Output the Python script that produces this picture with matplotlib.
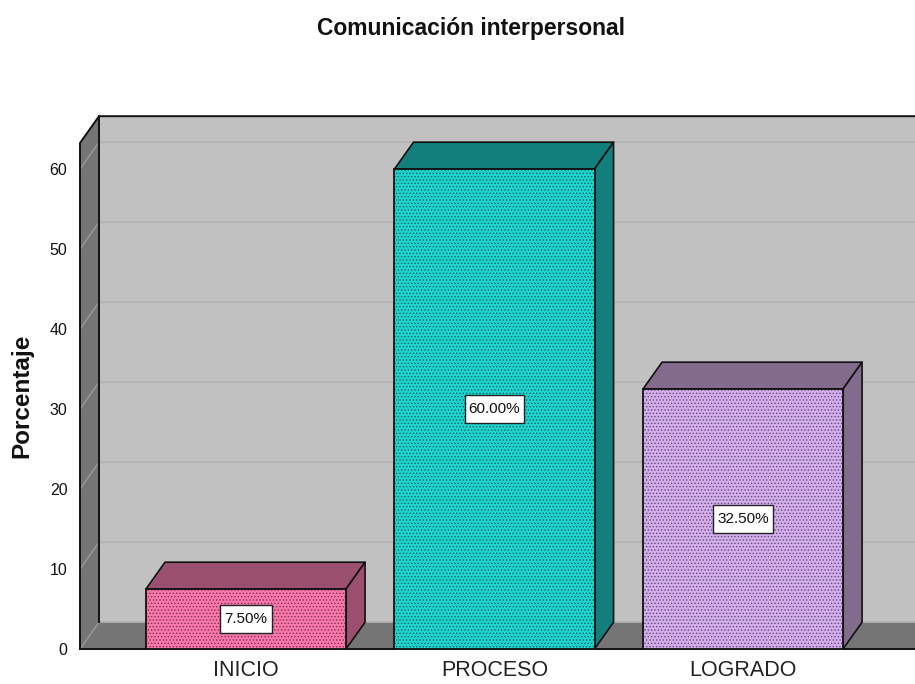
import matplotlib as mpl
mpl.use('Agg')
import matplotlib.pyplot as plt
from matplotlib.patches import Polygon, Rectangle

plt.rcParams['font.family'] = ['Liberation Sans', 'DejaVu Sans']
plt.rcParams['hatch.linewidth'] = 0.6

categories = ['INICIO', 'PROCESO', 'LOGRADO']
values = [7.5, 60.0, 32.5]
labels = ['7.50%', '60.00%', '32.50%']
front_colors = ['#FA78AC', '#20D4CD', '#D4AEEC']
side_colors = ['#9C5070', '#127F7D', '#836B8C']
hatch_colors = ['#7A3050', '#0A6A66', '#5F4A70']
box_w = [0.21, 0.235, 0.24]
yticks = [0, 10, 20, 30, 40, 50, 60]

# 3D look, offsets in data units
dx = 0.0765
dy = 3.35
bar_w = 0.805
ytop = 63.25
xmin, xmax = -0.668, 2.692

fig = plt.figure(figsize=(9.15, 6.84), dpi=100)
ax = fig.add_axes([80/915, 35/684, 835/915, 532.8/684])
ax.set_xlim(xmin, xmax)
ax.set_ylim(0, ytop + dy)
for s in ax.spines.values():
    s.set_visible(False)
ax.patch.set_alpha(0)

edge = '#111111'
# back wall, side wall, floor
ax.add_patch(Polygon([(xmin+dx, dy), (xmax, dy), (xmax, ytop+dy), (xmin+dx, ytop+dy)], fc='#C1C1C1', ec='none', zorder=1))
ax.add_patch(Polygon([(xmin, 0), (xmin+dx, dy), (xmin+dx, ytop+dy), (xmin, ytop)], fc='#757575', ec='none', zorder=1))
ax.add_patch(Polygon([(xmin, 0), (xmax, 0), (xmax, dy), (xmin+dx, dy)], fc='#757575', ec='none', zorder=1))

for t in yticks:
    ax.plot([xmin+dx, xmax], [t+dy, t+dy], color='#B2B2B2', lw=1.2, zorder=2, clip_on=False)
    ax.plot([xmin, xmin+dx], [t, t+dy], color='#959595', lw=1.1, zorder=2, clip_on=False)

ax.plot([xmin, xmin, xmin+dx, xmax], [0, ytop, ytop+dy, ytop+dy], color=edge, lw=1.4, zorder=3, clip_on=False)
ax.plot([xmin+dx, xmin+dx], [dy, ytop+dy], color=edge, lw=1.4, zorder=3, clip_on=False)
ax.plot([xmin, xmax], [0, 0], color=edge, lw=1.4, zorder=3, clip_on=False)

x = list(range(len(values)))
for i, v in enumerate(values):
    l, r = x[i] - bar_w/2, x[i] + bar_w/2
    ax.add_patch(Polygon([(l, v), (r, v), (r+dx, v+dy), (l+dx, v+dy)], fc=side_colors[i], ec=edge, lw=1.2, zorder=4, joinstyle='round'))
    ax.add_patch(Polygon([(r, 0), (r+dx, dy), (r+dx, v+dy), (r, v)], fc=side_colors[i], ec=edge, lw=1.2, zorder=4, joinstyle='round'))
    ax.bar(x[i], v, width=bar_w, color=front_colors[i], edgecolor=hatch_colors[i], hatch='.....', lw=0, zorder=5)
    ax.bar(x[i], v, width=bar_w, fill=False, edgecolor=edge, lw=1.3, zorder=6)
    ax.add_patch(Rectangle((x[i]-box_w[i]/2, v/2-1.75), box_w[i], 3.5, fc='white', ec='#222222', lw=1.0, zorder=7))
    ax.text(x[i], v/2, labels[i], ha='center', va='center', fontsize=11, color='#111111', zorder=8)

ax.set_xticks(x)
ax.set_xticklabels(categories, fontsize=15.5, color='#222222')
ax.set_yticks(yticks)
ax.set_yticklabels([str(t) for t in yticks], fontsize=11.5, color='#111111')
ax.tick_params(axis='x', length=0, pad=8)
ax.tick_params(axis='y', length=0, pad=9)

fig.text(471/915, 1 - 29/684, 'Comunicación interpersonal', ha='center', va='center', fontsize=16.5, fontweight='bold', color='#111111')
fig.text(22/915, 1 - 396/684, 'Porcentaje', ha='center', va='center', rotation=90, fontsize=17.5, fontweight='bold', color='#111111')

fig.savefig('out.png', dpi=100)
